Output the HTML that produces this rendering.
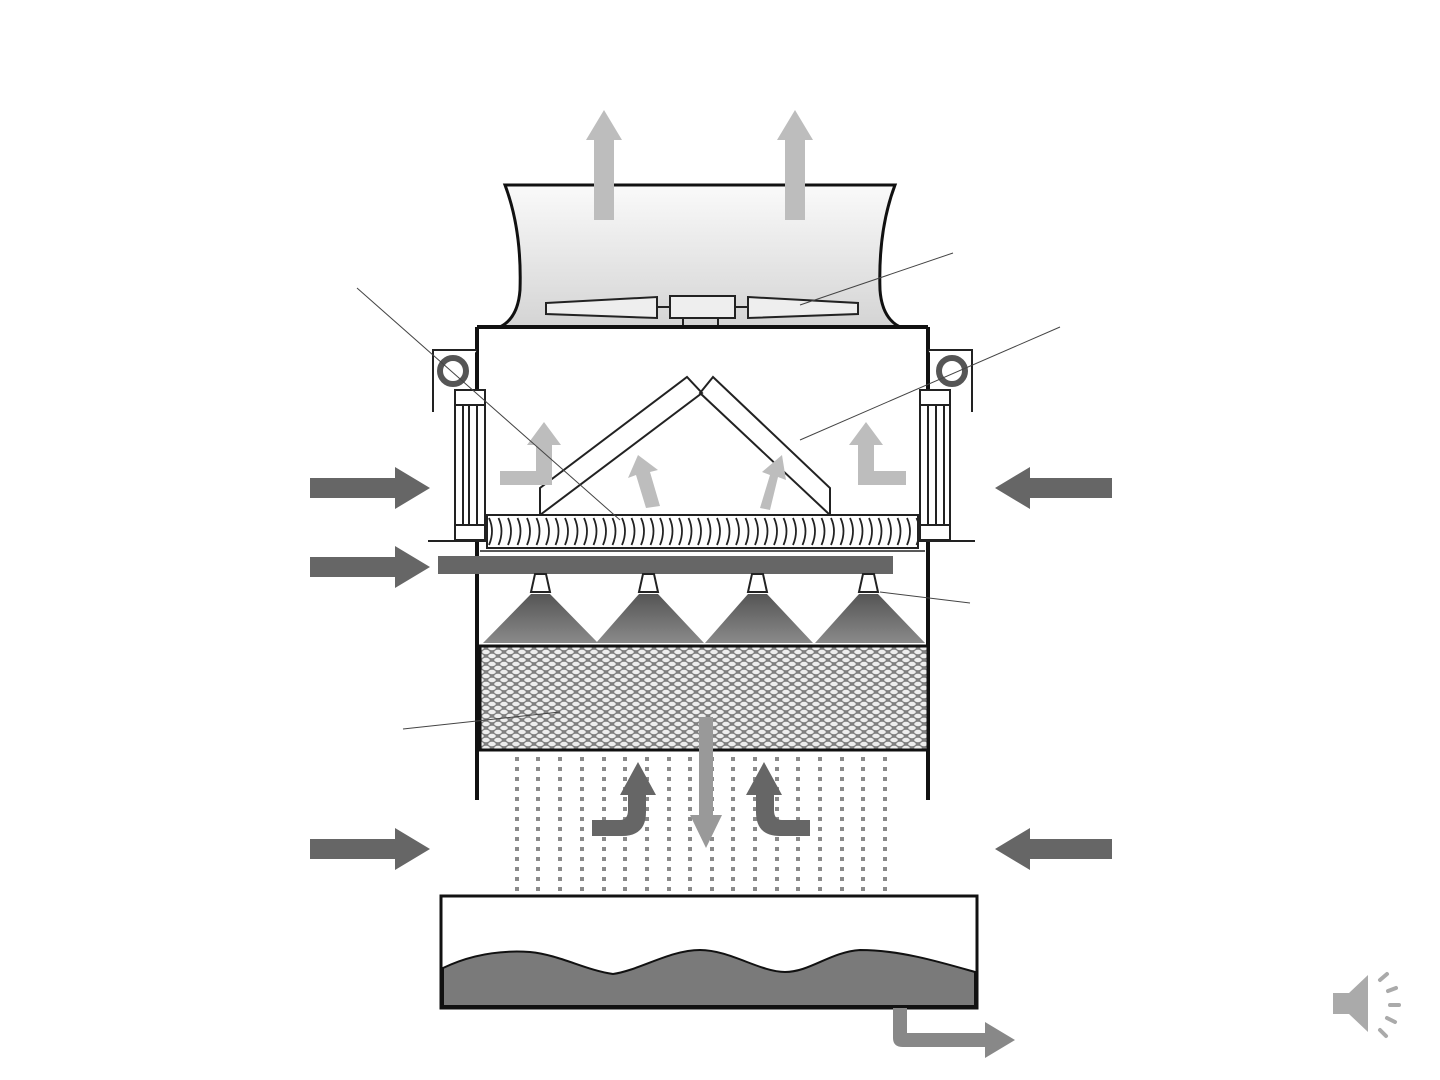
<!DOCTYPE html>
<html><head><meta charset="utf-8"><style>html,body{margin:0;padding:0;background:#fff;}svg{display:block}</style></head>
<body>
<svg width="1440" height="1080" viewBox="0 0 1440 1080" xmlns="http://www.w3.org/2000/svg">
<defs>
<linearGradient id="stack" x1="0" y1="0" x2="0" y2="1"><stop offset="0" stop-color="#fafafa"/><stop offset="1" stop-color="#d4d4d4"/></linearGradient>
<linearGradient id="cone" x1="0" y1="0" x2="0" y2="1"><stop offset="0" stop-color="#555"/><stop offset="1" stop-color="#8a8a8a"/></linearGradient>
<pattern id="fill" width="12" height="8" patternUnits="userSpaceOnUse"><rect width="12" height="8" fill="#808080"/><ellipse cx="6" cy="4" rx="3.8" ry="2.2" fill="#eee"/><ellipse cx="0" cy="0" rx="3.8" ry="2.2" fill="#eee"/><ellipse cx="12" cy="0" rx="3.8" ry="2.2" fill="#eee"/><ellipse cx="0" cy="8" rx="3.8" ry="2.2" fill="#eee"/><ellipse cx="12" cy="8" rx="3.8" ry="2.2" fill="#eee"/></pattern>
<pattern id="chev" width="9.5" height="33" patternUnits="userSpaceOnUse" x="487" y="515"><path d="M2 3 Q8 16 2 30" fill="none" stroke="#222" stroke-width="1.8"/></pattern>
</defs>

<path d="M505 185 L895 185 Q878 230 880 290 Q882 318 900 327 L500 327 Q518 318 520 290 Q522 230 505 185 Z" fill="url(#stack)" stroke="#111" stroke-width="3"/>
<g fill="#bdbdbd">
<path d="M594 220 V140 H586 L604 110 L622 140 H614 V220 Z"/>
<path d="M785 220 V140 H777 L795 110 L813 140 H805 V220 Z"/>
</g>
<g fill="#eee" stroke="#222" stroke-width="2">
<path d="M546 303 L657 297 L657 318 L546 314 Z"/>
<rect x="670" y="296" width="65" height="22"/>
<path d="M748 297 L858 303 L858 314 L748 318 Z"/>
</g>
<line x1="657" y1="307" x2="670" y2="307" stroke="#222" stroke-width="2"/>
<line x1="735" y1="307" x2="748" y2="307" stroke="#222" stroke-width="2"/>
<path d="M683 318 V327 M718 318 V327" stroke="#222" stroke-width="2"/>

<path d="M477 327 H928 M477 327 V800 M928 327 V800" stroke="#111" stroke-width="4" fill="none"/>
<g stroke="#222" stroke-width="2" fill="#fff">
<path d="M433 412 V350 H477"/><path d="M972 412 V350 H928"/>
</g>
<circle cx="453" cy="371" r="13" fill="none" stroke="#555" stroke-width="6"/>
<circle cx="952" cy="371" r="13" fill="none" stroke="#555" stroke-width="6"/>
<g stroke="#222" stroke-width="2" fill="#fff">
<rect x="455" y="390" width="30" height="150"/><line x1="455" y1="405" x2="485" y2="405"/><line x1="455" y1="525" x2="485" y2="525"/>
<line x1="463" y1="405" x2="463" y2="525"/><line x1="469" y1="405" x2="469" y2="525"/><line x1="477" y1="405" x2="477" y2="525"/>
<rect x="920" y="390" width="30" height="150"/><line x1="920" y1="405" x2="950" y2="405"/><line x1="920" y1="525" x2="950" y2="525"/>
<line x1="928" y1="405" x2="928" y2="525"/><line x1="936" y1="405" x2="936" y2="525"/><line x1="944" y1="405" x2="944" y2="525"/>
</g>
<line x1="428" y1="541" x2="975" y2="541" stroke="#222" stroke-width="2"/>

<g fill="none" stroke="#222" stroke-width="2">
<path d="M540 515 V488 L687 377 L702 393 L540 515"/>
<path d="M830 515 V488 L713 377 L700 393 L830 515"/>
</g>
<g fill="#bdbdbd">
<path d="M500 485 V471 H536 V445 H527 L544 422 L561 445 H552 V485 Z"/>
<path d="M906 485 V471 H874 V445 H883 L866 422 L849 445 H858 V485 Z"/>
<path d="M646 508 L636 475 L628 478 L638 455 L658 470 L650 472 L660 506 Z"/>
<path d="M760 508 L770 475 L762 472 L782 455 L786 480 L778 477 L770 510 Z"/>
</g>

<rect x="487" y="515" width="431" height="33" fill="#fff" stroke="#222" stroke-width="2"/>
<rect x="487" y="515" width="431" height="33" fill="url(#chev)"/>
<line x1="480" y1="551" x2="925" y2="551" stroke="#222" stroke-width="1.5"/>

<rect x="438" y="556" width="455" height="18" fill="#666"/>
<g>
<path d="M535 574 H546 L550 592 H531 Z" fill="#fff" stroke="#222" stroke-width="2"/>
<path d="M643 574 H654 L658 592 H639 Z" fill="#fff" stroke="#222" stroke-width="2"/>
<path d="M752 574 H763 L767 592 H748 Z" fill="#fff" stroke="#222" stroke-width="2"/>
<path d="M863 574 H874 L878 592 H859 Z" fill="#fff" stroke="#222" stroke-width="2"/>
<path d="M531 594 H550 L598 643 H483 Z" fill="url(#cone)"/>
<path d="M639 594 H658 L704 643 H596 Z" fill="url(#cone)"/>
<path d="M748 594 H767 L813 643 H705 Z" fill="url(#cone)"/>
<path d="M859 594 H878 L925 643 H815 Z" fill="url(#cone)"/>
</g>

<rect x="480" y="646" width="448" height="104" fill="url(#fill)" stroke="#111" stroke-width="3"/>

<g stroke="#8a8a8a" stroke-width="4" stroke-dasharray="4 6">
<path d="M517 757 V935 M538 757 V935 M560 757 V935 M582 757 V935 M604 757 V935 M625 757 V935 M647 757 V935 M669 757 V935 M690 757 V935 M712 757 V935 M733 757 V935 M755 757 V935 M777 757 V935 M798 757 V935 M820 757 V935 M842 757 V935 M863 757 V935 M885 757 V935"/>
</g>

<path d="M699 717 H713 V815 H722 L706 848 L690 815 H699 Z" fill="#999"/>
<g fill="#666">
<path d="M592 836 V820 H620 Q628 820 628 810 V795 H620 L638 762 L656 795 H646 V812 Q646 836 622 836 Z"/>
<path d="M810 836 V820 H782 Q774 820 774 810 V795 H782 L764 762 L746 795 H756 V812 Q756 836 780 836 Z"/>
</g>

<g fill="#666">
<path d="M310 478 H395 V467 L430 488 L395 509 V498 H310 Z"/>
<path d="M310 557 H395 V546 L430 567 L395 588 V577 H310 Z"/>
<path d="M310 839 H395 V828 L430 849 L395 870 V859 H310 Z"/>
<path d="M1112 478 H1030 V467 L995 488 L1030 509 V498 H1112 Z"/>
<path d="M1112 839 H1030 V828 L995 849 L1030 870 V859 H1112 Z"/>
</g>

<rect x="441" y="896" width="536" height="112" fill="#fff" stroke="#111" stroke-width="3"/>
<path d="M443 968 C470 955 500 950 530 952 C560 955 585 970 613 974 C640 970 670 950 700 950 C730 950 760 972 785 972 C810 972 830 952 860 950 C900 950 940 962 975 972 V1006 H443 Z" fill="#7a7a7a" stroke="#111" stroke-width="2"/>
<path d="M893 1008 V1038 Q893 1047 903 1047 H985 V1058 L1015 1040 L985 1022 V1033 H907 V1008 Z" fill="#888"/>

<g stroke="#444" stroke-width="1" fill="none">
<line x1="953" y1="253" x2="800" y2="305"/>
<line x1="357" y1="288" x2="620" y2="520"/>
<line x1="1060" y1="327" x2="800" y2="440"/>
<line x1="970" y1="603" x2="880" y2="592"/>
<line x1="403" y1="729" x2="560" y2="712"/>
</g>

<g fill="#aaa">
<path d="M1333 993 H1349 L1368 975 V1032 L1349 1014 H1333 Z"/>
<g stroke="#aaa" stroke-width="4" stroke-linecap="round">
<line x1="1380" y1="980" x2="1387" y2="974"/>
<line x1="1388" y1="991" x2="1396" y2="988"/>
<line x1="1390" y1="1005" x2="1399" y2="1005"/>
<line x1="1387" y1="1018" x2="1395" y2="1022"/>
<line x1="1380" y1="1030" x2="1386" y2="1036"/>
</g>
</g>
</svg>
</body></html>
